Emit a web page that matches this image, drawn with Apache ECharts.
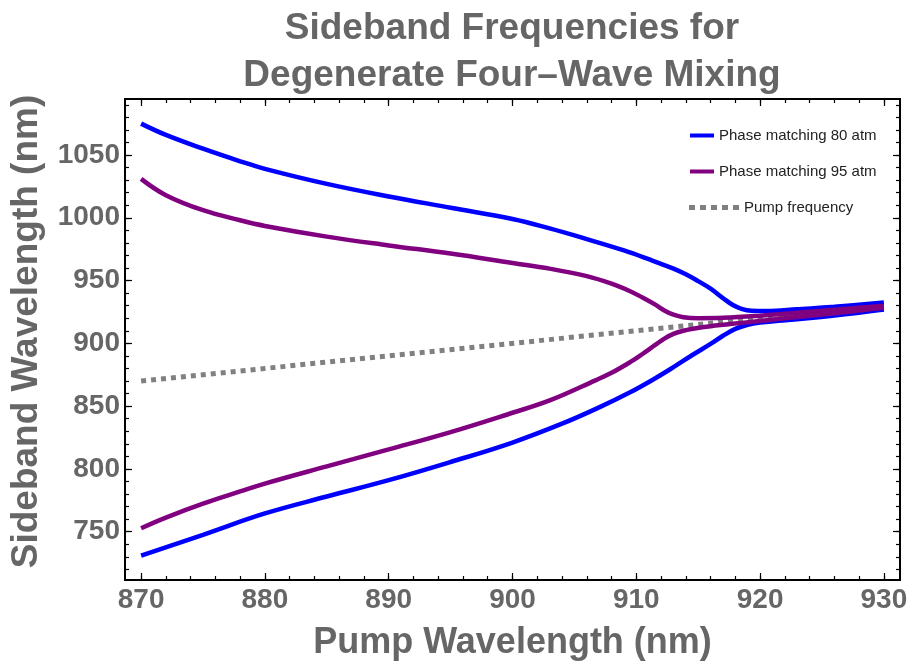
<!DOCTYPE html>
<html>
<head>
<meta charset="utf-8">
<script src="https://cdn.jsdelivr.net/npm/echarts@6/dist/echarts.min.js"></script>
<style>html,body{margin:0;padding:0;background:#fff;}#c{width:910px;height:669px;}</style>
</head>
<body>
<div id="c"></div>
<script>
const xTickValues = [870, 880, 890, 900, 910, 920, 930];
const yTickValues = [750, 800, 850, 900, 950, 1000, 1050];

const blueUpperX = [870, 872, 875, 878, 880, 885, 890, 895, 900, 903, 906, 909, 911, 913, 914, 915, 916, 917, 917.8, 918.5, 919.3, 920.5, 923, 926, 930];
const blueUpperY = [1075, 1066, 1055, 1045, 1039, 1027, 1017, 1008, 999, 991.5, 983, 974, 967, 959.5, 955, 949.5, 943.5, 936, 930.5, 927.5, 926, 925.8, 927.2, 929.2, 932.5];

const blueLowerX = [870, 875, 880, 885, 890, 895, 900, 904, 907, 909.5, 911.5, 913, 914.5, 916, 917, 918, 919, 920, 922.5, 926, 930];
const blueLowerY = [731, 747.5, 764.5, 778, 791, 805.5, 821, 836, 849, 861, 872, 881, 890.5, 899.5, 906, 911.5, 914.8, 916.5, 918.8, 922.2, 927];

const purpleUpperX = [870, 872, 875, 878, 880, 885, 890, 895, 900, 903, 906, 908, 909.5, 910.5, 911.5, 912.3, 913, 913.8, 915, 917, 920, 923, 926, 930];
const purpleUpperY = [1031, 1018, 1006, 998, 993.5, 985, 978, 971.5, 964, 959.5, 953.5, 947.5, 941.5, 936.5, 931, 926, 922.8, 920.8, 920, 920.3, 922, 924.3, 926.7, 930];

const purpleLowerX = [870, 872, 875, 878, 880, 885, 890, 895, 900, 903, 906.7, 908, 909.5, 910.5, 911.5, 912.3, 913, 913.8, 914.7, 916, 918.7, 922, 926, 930];
const purpleLowerY = [752.7, 761.2, 772.3, 782, 788.3, 802, 815.5, 829.3, 844.7, 854.5, 870.5, 876.5, 885, 891.5, 898.5, 904, 907.5, 910, 911.8, 913.6, 916.5, 920, 924, 928.5];

const pumpX = [870, 930];
const pumpY = [870, 930];

const xMinorTicks = [];
for (let v = 870; v <= 930; v += 2) xMinorTicks.push(v);
const yMinorTicks = [];
for (let v = 720; v <= 1090; v += 10) yMinorTicks.push(v);

const zip = (xs, ys) => xs.map((x, i) => [x, ys[i]]);

const FONT = '"Liberation Sans", Arial, Helvetica, sans-serif';
const GRAY = '#666666';
const XMIN = 868.7, XMAX = 931.3, YMIN = 711.5, YMAX = 1094.6;

function xAxisDef(pos, ticks, len, showLabel, extra) {
  return Object.assign({
    type: 'value', position: pos, min: XMIN, max: XMAX,
    axisLine: { show: false },
    splitLine: { show: false },
    axisTick: { show: true, inside: true, length: len, customValues: ticks, lineStyle: { color: '#000', width: 1.2 } },
    axisLabel: showLabel ? {
      show: true, customValues: ticks, margin: 6, formatter: v => String(v),
      fontSize: 28, fontWeight: 'bold', color: GRAY, fontFamily: FONT
    } : { show: false }
  }, extra || {});
}
function yAxisDef(pos, ticks, len, showLabel, extra) {
  return Object.assign({
    type: 'value', position: pos, min: YMIN, max: YMAX,
    axisLine: { show: false },
    splitLine: { show: false },
    axisTick: { show: true, inside: true, length: len, customValues: ticks, lineStyle: { color: '#000', width: 1.2 } },
    axisLabel: showLabel ? {
      show: true, customValues: ticks, margin: 5, formatter: v => String(v),
      fontSize: 28, fontWeight: 'bold', color: GRAY, fontFamily: FONT
    } : { show: false }
  }, extra || {});
}

const chart = echarts.init(document.getElementById('c'), null, { renderer: 'canvas' });

const lineSeries = (name, data, color, z) => ({
  name, type: 'line', data, xAxisIndex: 0, yAxisIndex: 0,
  showSymbol: false, symbol: 'none', smooth: 0.4,
  lineStyle: { color, width: 4.5 }, itemStyle: { color }, z, silent: true, clip: true
});

const dotsIcon = 'path://M0,0h6v5h-6z M11,0h6v5h-6z M22,0h6v5h-6z M33,0h6v5h-6z M44,0h6v5h-6z';
const legendText = { fontSize: 15, color: '#222', fontFamily: FONT };

const option = {
  animation: false,
  backgroundColor: '#ffffff',
  title: {
    text: 'Sideband Frequencies for\nDegenerate Four\u2013Wave Mixing',
    left: 507, top: 0, textAlign: 'center',
    textStyle: { fontSize: 37, fontWeight: 'bold', color: GRAY, fontFamily: FONT, lineHeight: 47 }
  },
  grid: { left: 125, right: 10, top: 99, bottom: 89, show: true, borderColor: '#000', borderWidth: 2,
          backgroundColor: 'transparent', outerBoundsMode: 'none', containLabel: false },
  legend: [
    { data: [{ name: 'Phase matching 80 atm', icon: 'rect' }], left: 690, top: 128, padding: 0, itemWidth: 24, itemHeight: 4,
      textStyle: legendText, selectedMode: false },
    { data: [{ name: 'Phase matching 95 atm', icon: 'rect' }], left: 690, top: 164, padding: 0, itemWidth: 24, itemHeight: 4,
      textStyle: legendText, selectedMode: false },
    { data: [{ name: 'Pump frequency', icon: dotsIcon }], left: 689, top: 200, padding: 0, itemWidth: 50, itemHeight: 5,
      textStyle: legendText, selectedMode: false }
  ],
  xAxis: [
    xAxisDef('bottom', xTickValues, 7, true, {
      name: 'Pump Wavelength (nm)', nameLocation: 'middle', nameGap: 45,
      nameTextStyle: { fontSize: 36, fontWeight: 'bold', color: GRAY, fontFamily: FONT }
    }),
    xAxisDef('bottom', xMinorTicks, 4, false),
    xAxisDef('top', xTickValues, 7, false),
    xAxisDef('top', xMinorTicks, 4, false)
  ],
  yAxis: [
    yAxisDef('left', yTickValues, 7, true, {
      name: 'Sideband Wavelength (nm)', nameLocation: 'middle', nameGap: 80,
      nameTextStyle: { fontSize: 37, fontWeight: 'bold', color: GRAY, fontFamily: FONT, padding: [0, 0, 0, 16] }
    }),
    yAxisDef('left', yMinorTicks, 4, false),
    yAxisDef('right', yTickValues, 7, false),
    yAxisDef('right', yMinorTicks, 4, false)
  ],
  series: [
    {
      name: 'Pump frequency', type: 'line', data: zip(pumpX, pumpY), xAxisIndex: 0, yAxisIndex: 0,
      showSymbol: false, symbol: 'none',
      lineStyle: { color: '#808080', width: 5, type: [5, 5], cap: 'butt' }, itemStyle: { color: '#808080' }, z: 1, silent: true
    },
    lineSeries('Phase matching 80 atm', zip(blueUpperX, blueUpperY), '#0000ff', 2),
    lineSeries('Phase matching 80 atm', zip(blueLowerX, blueLowerY), '#0000ff', 2),
    lineSeries('Phase matching 95 atm', zip(purpleUpperX, purpleUpperY), '#800080', 3),
    lineSeries('Phase matching 95 atm', zip(purpleLowerX, purpleLowerY), '#800080', 3)
  ]
};
chart.setOption(option);
</script>
</body>
</html>
